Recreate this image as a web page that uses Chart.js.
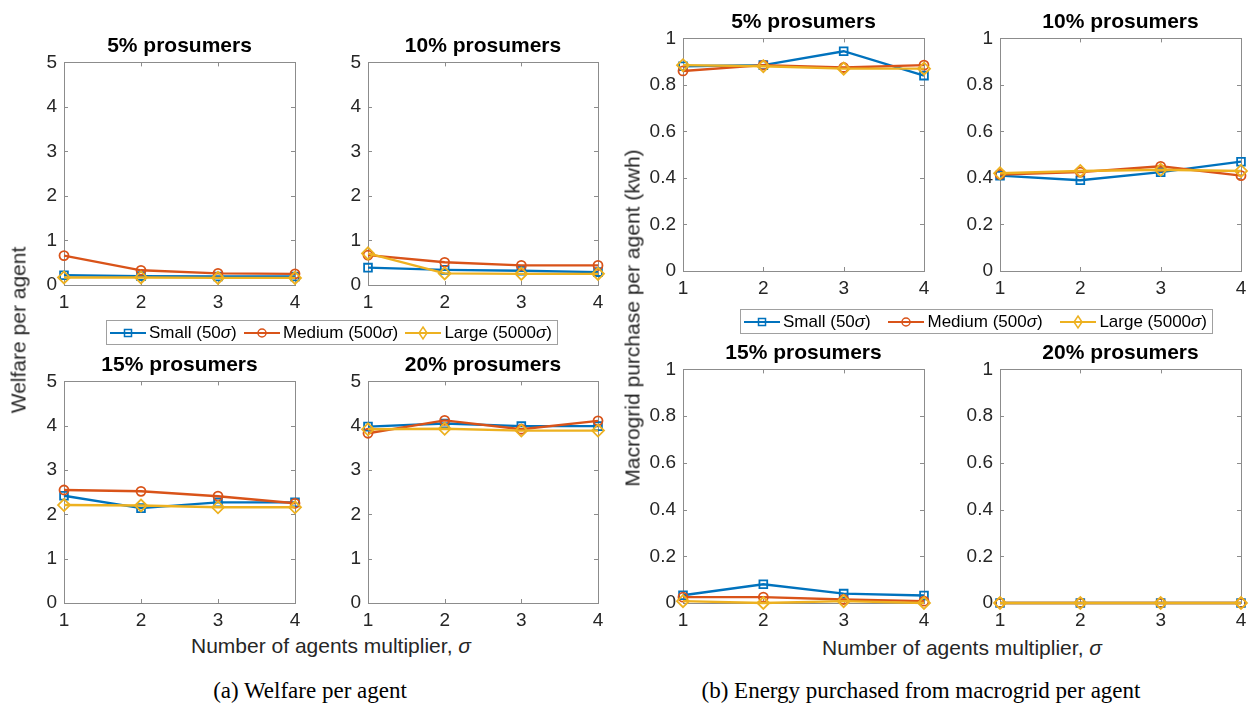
<!DOCTYPE html>
<html>
<head>
<meta charset="utf-8">
<script src="https://cdn.jsdelivr.net/npm/chart.js@4.4.1/dist/chart.umd.min.js"></script>
<style>
  body { margin:0; background:#fff; width:1251px; height:704px; position:relative; overflow:hidden;
         font-family:"Liberation Sans", Arial, sans-serif; color:#262626; }
  .plot { position:absolute; }
  .ttl { position:absolute; font-weight:bold; font-size:21px; color:#000; white-space:nowrap;
         line-height:1; transform:translate(-50%,-50%); }
  .xl  { position:absolute; font-size:21px; white-space:nowrap; line-height:1; transform:translate(-50%,-50%); }
  .yl  { position:absolute; font-size:21px; white-space:nowrap; line-height:1; transform:translate(-50%,-50%) rotate(-90deg); }
  .cap { position:absolute; font-family:"Liberation Serif","Times New Roman",serif; font-size:23px; color:#000;
         white-space:nowrap; line-height:1; transform:translate(-50%,-50%); }
  .leg { position:absolute; border:1px solid #a0a0a0; background:#fff; display:flex; align-items:center;
         justify-content:space-between; padding:0 5px 0 3px; box-sizing:border-box; font-size:17px; color:#000; }
  .leg .it { display:flex; align-items:center; white-space:nowrap; }
  .leg svg { margin-right:3px; }
</style>
</head>
<body>
<script>
// x values and labels
var multipliers = [1, 2, 3, 4];
var prosumerShares = ['5% prosumers', '10% prosumers', '15% prosumers', '20% prosumers'];
var seriesNames = ['Small (50', 'Medium (500', 'Large (5000'];
var welfareTicks = [0, 1, 2, 3, 4, 5];
var energyTicks = [0, 0.2, 0.4, 0.6, 0.8, 1];

// (a) welfare per agent, one row per prosumer share
var welfareSmall = [
  [0.22, 0.20, 0.19, 0.19],
  [0.39, 0.34, 0.32, 0.29],
  [2.42, 2.14, 2.27, 2.27],
  [3.98, 4.05, 3.99, 3.99]
];
var welfareMedium = [
  [0.66, 0.33, 0.26, 0.25],
  [0.67, 0.51, 0.44, 0.44],
  [2.55, 2.52, 2.41, 2.25],
  [3.83, 4.12, 3.92, 4.11]
];
var welfareLarge = [
  [0.17, 0.17, 0.16, 0.16],
  [0.71, 0.26, 0.25, 0.25],
  [2.21, 2.20, 2.16, 2.16],
  [3.92, 3.93, 3.89, 3.89]
];

// (b) macrogrid purchase per agent (kwh)
var energySmall = [
  [0.88, 0.885, 0.945, 0.84],
  [0.41, 0.39, 0.425, 0.47],
  [0.033, 0.08, 0.04, 0.032],
  [0, 0, 0, 0]
];
var energyMedium = [
  [0.86, 0.885, 0.875, 0.885],
  [0.415, 0.425, 0.45, 0.41],
  [0.025, 0.025, 0.015, 0.008],
  [0, 0, 0, 0]
];
var energyLarge = [
  [0.885, 0.88, 0.87, 0.87],
  [0.42, 0.43, 0.435, 0.43],
  [0.008, 0, 0.008, 0],
  [0, 0, 0, 0]
];

var colors = ['#0072BD', '#D95319', '#EDB120'];
var markers = ['rect', 'circle', 'rectRot'];
var markerSize = [5.5, 4.5, 6];

// plot rectangles in page pixels [left, top, right, bottom]
var rectsA = [[64, 56, 295, 285], [368, 56, 598, 285], [64, 375, 295, 603], [368, 375, 598, 603]];
var rectsB = [[683, 32, 924, 271], [1000, 32, 1241, 271], [683, 363, 924, 603], [1000, 363, 1241, 603]];

var Y_W = 60, X_H = 30, PAD_T = 12, PAD_R = 14;

// matlab like box with inward ticks
var boxPlugin = {
  id: 'matlabBox',
  beforeDatasetsDraw: function(chart) {
    var ctx = chart.ctx, a = chart.chartArea, x = chart.scales.x, y = chart.scales.y;
    ctx.save();
    ctx.strokeStyle = '#8c8c8c';
    ctx.lineWidth = 1;
    ctx.strokeRect(Math.round(a.left) + 0.5, Math.round(a.top) + 0.5, Math.round(a.right - a.left), Math.round(a.bottom - a.top));
    ctx.beginPath();
    x.ticks.forEach(function(t) {
      var px = Math.round(x.getPixelForValue(t.value)) + 0.5;
      ctx.moveTo(px, a.bottom); ctx.lineTo(px, a.bottom - 4);
      ctx.moveTo(px, a.top); ctx.lineTo(px, a.top + 4);
    });
    y.ticks.forEach(function(t) {
      var py = Math.round(y.getPixelForValue(t.value)) + 0.5;
      ctx.moveTo(a.left, py); ctx.lineTo(a.left + 4, py);
      ctx.moveTo(a.right, py); ctx.lineTo(a.right - 4, py);
    });
    ctx.stroke();
    ctx.restore();
  }
};

function addDiv(cls, html, x, y) {
  var d = document.createElement('div');
  d.className = cls;
  d.innerHTML = html;
  d.style.left = x + 'px';
  d.style.top = y + 'px';
  document.body.appendChild(d);
  return d;
}

function makePlot(r, rows, idx, ymax, ticks) {
  var w = (r[2] - r[0]) + Y_W + PAD_R;
  var h = (r[3] - r[1]) + PAD_T + X_H;
  var cv = document.createElement('canvas');
  cv.className = 'plot';
  cv.width = w; cv.height = h;
  cv.style.left = (r[0] - Y_W) + 'px';
  cv.style.top = (r[1] - PAD_T) + 'px';
  document.body.appendChild(cv);

  var datasets = rows.map(function(rowSet, s) {
    return {
      label: seriesNames[s],
      data: multipliers.map(function(m, i) { return { x: m, y: rowSet[idx][i] }; }),
      borderColor: colors[s],
      borderWidth: 2.4,
      pointStyle: markers[s],
      pointRadius: markerSize[s],
      pointBorderWidth: 1.8,
      pointBorderColor: colors[s],
      pointBackgroundColor: 'rgba(0,0,0,0)',
      tension: 0,
      clip: false,
      order: 2 - s
    };
  });

  new Chart(cv, {
    type: 'line',
    data: { datasets: datasets },
    options: {
      responsive: false,
      animation: false,
      devicePixelRatio: 1,
      layout: { padding: { top: PAD_T, right: PAD_R, left: 0, bottom: 0 }, autoPadding: false },
      plugins: { legend: { display: false }, tooltip: { enabled: false } },
      scales: {
        x: {
          type: 'linear', min: 1, max: 4,
          grid: { display: false, drawTicks: false }, border: { display: false },
          afterBuildTicks: function(sc) { sc.ticks = multipliers.map(function(v) { return { value: v }; }); },
          afterFit: function(sc) { sc.height = X_H; },
          ticks: { padding: 6, color: '#262626', font: { family: 'Liberation Sans', size: 19 },
                   maxRotation: 0, callback: function(v) { return String(v); } }
        },
        y: {
          type: 'linear', min: 0, max: ymax,
          grid: { display: false, drawTicks: false }, border: { display: false },
          afterBuildTicks: function(sc) { sc.ticks = ticks.map(function(v) { return { value: v }; }); },
          afterFit: function(sc) { sc.width = Y_W; },
          ticks: { padding: 7, color: '#262626', font: { family: 'Liberation Sans', size: 19 },
                   callback: function(v) { return String(v); } }
        }
      }
    },
    plugins: [boxPlugin]
  });

  addDiv('ttl', prosumerShares[idx], (r[0] + r[2]) / 2, r[1] - 12);
}

function legendSvg(s) {
  var c = colors[s], m;
  if (s === 0) m = '<rect x="14.5" y="5.5" width="7" height="7" fill="none" stroke="' + c + '" stroke-width="1.5"/>';
  else if (s === 1) m = '<circle cx="18" cy="9" r="4" fill="none" stroke="' + c + '" stroke-width="1.5"/>';
  else m = '<path d="M18 3 L22 9 L18 15 L14 9 Z" fill="none" stroke="' + c + '" stroke-width="1.5"/>';
  return '<svg width="36" height="18"><line x1="0" y1="9" x2="36" y2="9" stroke="' + c + '" stroke-width="2.2"/>' + m + '</svg>';
}

function makeLegend(left, top, width, height) {
  var html = seriesNames.map(function(n, s) {
    return '<span class="it">' + legendSvg(s) + n + '<i>σ</i>)</span>';
  }).join('');
  var d = addDiv('leg', html, left, top);
  d.style.width = width + 'px';
  d.style.height = height + 'px';
}

for (var i = 0; i < 4; i++) {
  makePlot(rectsA[i], [welfareSmall, welfareMedium, welfareLarge], i, 5, welfareTicks);
  makePlot(rectsB[i], [energySmall, energyMedium, energyLarge], i, 1, energyTicks);
}

makeLegend(106, 320, 452, 25);
makeLegend(740, 309, 473, 25);

addDiv('xl', 'Number of agents multiplier, <i>σ</i>', 331, 645);
addDiv('xl', 'Number of agents multiplier, <i>σ</i>', 962, 647);
addDiv('yl', 'Welfare per agent', 18, 330);
addDiv('yl', 'Macrogrid purchase per agent (kwh)', 632, 318);
addDiv('cap', '(a) Welfare per agent', 310, 690);
addDiv('cap', '(b) Energy purchased from macrogrid per agent', 921, 690);
</script>
</body>
</html>
